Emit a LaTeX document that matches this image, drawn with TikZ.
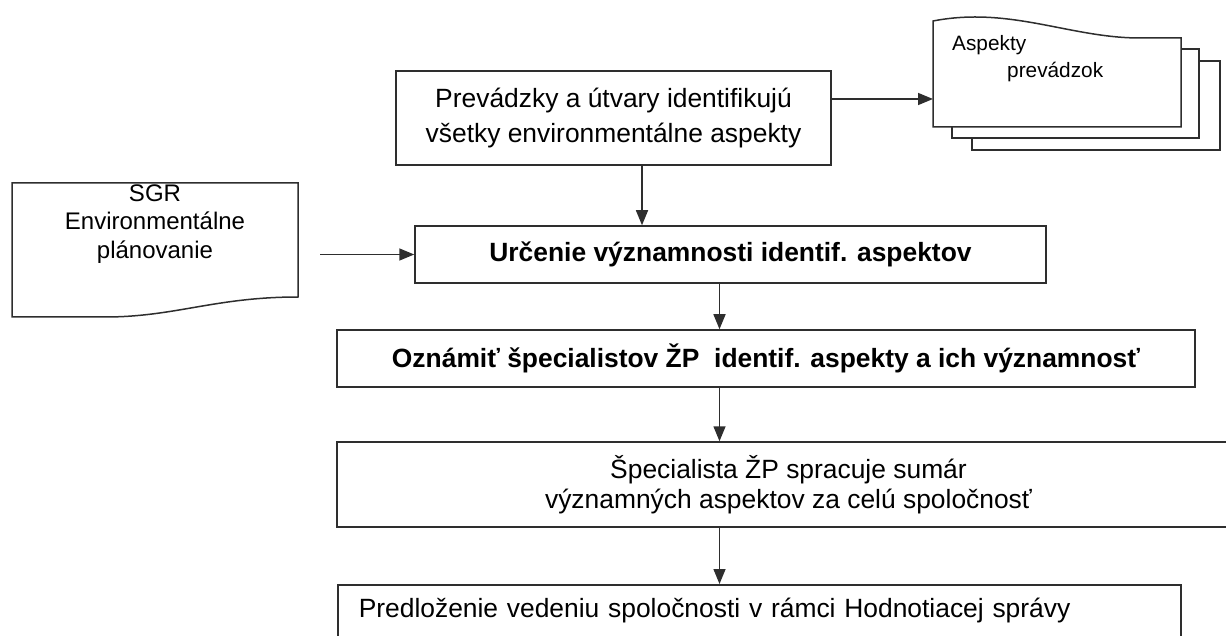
\documentclass[tikz,border=0pt]{standalone}
\usepackage{fontspec}
\setmainfont{Liberation Sans}
\usetikzlibrary{arrows.meta,positioning}

\begin{document}
\begin{tikzpicture}[x=1pt, y=-1pt, >={Triangle[length=15pt,width=12pt]},
  outl/.style={draw=black!82, line width=1.5pt},
  box/.style={outl, rectangle, inner sep=0pt, align=center, font=\fontsize{26.4}{35}\selectfont},
  bbox/.style={box, font=\fontsize{26.4}{35}\selectfont\bfseries},
  docsh/.style={outl, fill=white},
  doctxt/.style={inner sep=0pt, align=left, font=\fontsize{20.8}{27}\selectfont},
  arr/.style={outl, ->}]
\useasboundingbox (0,0) rectangle (1226,636);
\clip (0,0) rectangle (1226,636);

% process boxes
\node[box, minimum width=435, minimum height=94] (prev) at (613.5,118)
  {Prevádzky a útvary identifikujú\\všetky environmentálne aspekty};
\node[bbox, minimum width=631, minimum height=57] (urc) at (730.5,254.5)
  {Určenie významnosti identif. aspektov};
\node[bbox, minimum width=858, minimum height=57] (ozn) at (766,358.5)
  {Oznámiť špecialistov ŽP~ identif. aspekty a ich významnosť};
\node[box, minimum width=903, minimum height=85, font=\fontsize{26.4}{30}\selectfont] (spec) at (788.5,484.5)
  {Špecialista ŽP spracuje sumár\\významných aspektov za celú spoločnosť};
\node[box, anchor=north west, text width=801, align=left, inner xsep=21, inner ysep=4,
  text height=29pt, text depth=50pt] (pred) at (337,584)
  {Predloženie vedeniu spoločnosti v rámci Hodnotiacej správy};

% input document
\draw[docsh] (12,183) -- (298,183) -- (298,297) .. controls (215,297) and (175,317) .. (105,317) -- (12,317) -- cycle;
\node[align=center, font=\fontsize{24}{28.5}\selectfont] (sgr) at (155,224)
  {SGR\\Environmentálne\\plánovanie};

% output documents (stack)
\draw[docsh] (972,61) rectangle (1220,150);
\draw[docsh] (952,49) rectangle (1199,138);
\draw[docsh] (933,21) .. controls (1010,6) and (1070,38) .. (1140,38) -- (1181,38) -- (1181,127) -- (933,127) -- cycle;
\node[doctxt, anchor=west] (asp) at (952,58.5) {Aspekty\\\hspace*{55pt}prevádzok};

% connectors
\coordinate (aspin) at (933,99);
\coordinate (sgrout) at (320,254.5);
\coordinate (c1) at (642,0);
\coordinate (c2) at (719.5,0);
\draw[arr] (prev.east |- aspin) -- (aspin);
\draw[arr] (sgrout) -- (urc.west);
\draw[arr] (prev.south -| c1) -- (urc.north -| c1);
\draw[arr] (urc.south -| c2) -- (ozn.north -| c2);
\draw[arr] (ozn.south -| c2) -- (spec.north -| c2);
\draw[arr] (spec.south -| c2) -- (pred.north -| c2);
\end{tikzpicture}
\end{document}
